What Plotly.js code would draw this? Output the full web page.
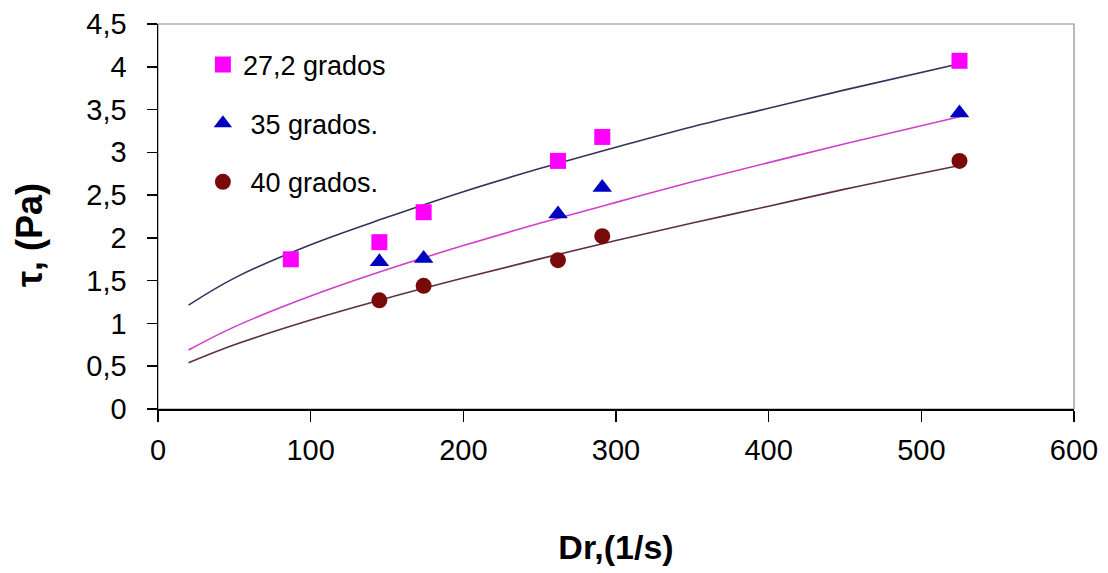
<!DOCTYPE html>
<html>
<head>
<meta charset="utf-8">
<script src="https://cdn.plot.ly/plotly-3.0.1.min.js"></script>
<style>
html,body{margin:0;padding:0;background:#ffffff;}
#chart{width:1108px;height:573px;}
</style>
</head>
<body>
<div id="chart"></div>
<script>
// ---- data ----
const seriesNames = ['27,2 grados', '\u00a035 grados.', '\u00a040 grados.'];

const x272 = [87, 145, 174, 262, 291, 525];
const y272 = [1.75, 1.95, 2.30, 2.90, 3.18, 4.07];

const x35 = [145, 174, 262, 291, 525];
const y35 = [1.72, 1.76, 2.28, 2.59, 3.46];

const x40 = [145, 174, 262, 291, 525];
const y40 = [1.27, 1.44, 1.74, 2.02, 2.90];

// trend curves at regular shear rates
const fitX = [20, 50, 100, 150, 200, 250, 300, 350, 400, 450, 525];
const fit272y = [1.215, 1.53, 1.92, 2.24, 2.54, 2.81, 3.06, 3.30, 3.515, 3.73, 4.035];
const fit35y  = [0.69, 0.96, 1.32, 1.63, 1.91, 2.17, 2.415, 2.655, 2.88, 3.10, 3.415];
const fit40y  = [0.54, 0.75, 1.04, 1.295, 1.53, 1.755, 1.97, 2.175, 2.37, 2.57, 2.847];

const xTickVals = [0, 100, 200, 300, 400, 500, 600];
const yTickVals = [0, 0.5, 1, 1.5, 2, 2.5, 3, 3.5, 4, 4.5];

const FONT = 'Liberation Sans, Arial, sans-serif';

function fitLine(xs, ys, color) {
  return {
    x: xs, y: ys, type: 'scatter', mode: 'lines',
    line: {color: color, width: 1.6, shape: 'spline', smoothing: 1},
    showlegend: false, hoverinfo: 'skip'
  };
}

const traces = [
  fitLine(fitX, fit272y, '#33335c'),
  fitLine(fitX, fit35y, '#d040c8'),
  fitLine(fitX, fit40y, '#5e2e4c'),
  {x: x272, y: y272, type: 'scatter', mode: 'markers', name: seriesNames[0], legendgroup: 'a',
   marker: {symbol: 'square', size: 16, color: '#ff00ff', line: {width: 0}}},
  {x: x35, y: y35, type: 'scatter', mode: 'markers', name: seriesNames[1], legendgroup: 'b',
   marker: {symbol: 'triangle-up', size: 17, color: '#0000c0', line: {width: 0}}},
  {x: x40, y: y40, type: 'scatter', mode: 'markers', name: seriesNames[2], legendgroup: 'c',
   marker: {symbol: 'circle', size: 16, color: '#7a0a0a', line: {width: 0}}}
];

const layout = {
  width: 1108, height: 573,
  paper_bgcolor: '#ffffff', plot_bgcolor: '#ffffff',
  separators: ',.',
  margin: {l: 158, r: 34, t: 24, b: 164, pad: 0},
  font: {family: FONT, color: '#000000'},
  showlegend: true,
  legend: {
    x: 0.049, y: 0.957, xanchor: 'left', yanchor: 'top',
    font: {family: FONT, size: 27, color: '#000000'},
    tracegroupgap: 20.5, bgcolor: 'rgba(0,0,0,0)', itemsizing: 'trace'
  },
  xaxis: {
    range: [0, 600], tickvals: xTickVals, ticktext: xTickVals.map(String),
    showgrid: false, zeroline: false,
    showline: true, linecolor: '#000000', linewidth: 1.5,
    ticks: 'outside', ticklen: 11, tickwidth: 1.5, tickcolor: '#000000',
    tickfont: {family: FONT, size: 29, color: '#000000'},
    ticklabelstandoff: 4,
    title: {text: '<b>Dr,(1/s)</b>', font: {family: FONT, size: 34, color: '#000000'}, standoff: 70}
  },
  yaxis: {
    range: [0, 4.5], tickvals: yTickVals, ticktext: yTickVals.map(v => String(v).replace('.', ',')),
    showgrid: false, zeroline: false,
    showline: true, linecolor: '#000000', linewidth: 1.5,
    ticks: 'outside', ticklen: 10, tickwidth: 1.5, tickcolor: '#000000',
    tickfont: {family: FONT, size: 29, color: '#000000'},
    ticklabelstandoff: 14
  },
  annotations: [{
    text: '<b>\u03c4, (Pa)</b>', xref: 'paper', yref: 'paper',
    x: -0.1397, y: 0.452, xanchor: 'center', yanchor: 'middle',
    textangle: -90, showarrow: false,
    font: {family: FONT, size: 36, color: '#000000'}
  }],
  shapes: [{
    type: 'rect', xref: 'paper', yref: 'paper', x0: 0, x1: 1, y0: 0, y1: 1,
    line: {color: '#8c8c8c', width: 1.2}, layer: 'below'
  }]
};

Plotly.newPlot('chart', traces, layout, {displayModeBar: false, staticPlot: true});
</script>
</body>
</html>
